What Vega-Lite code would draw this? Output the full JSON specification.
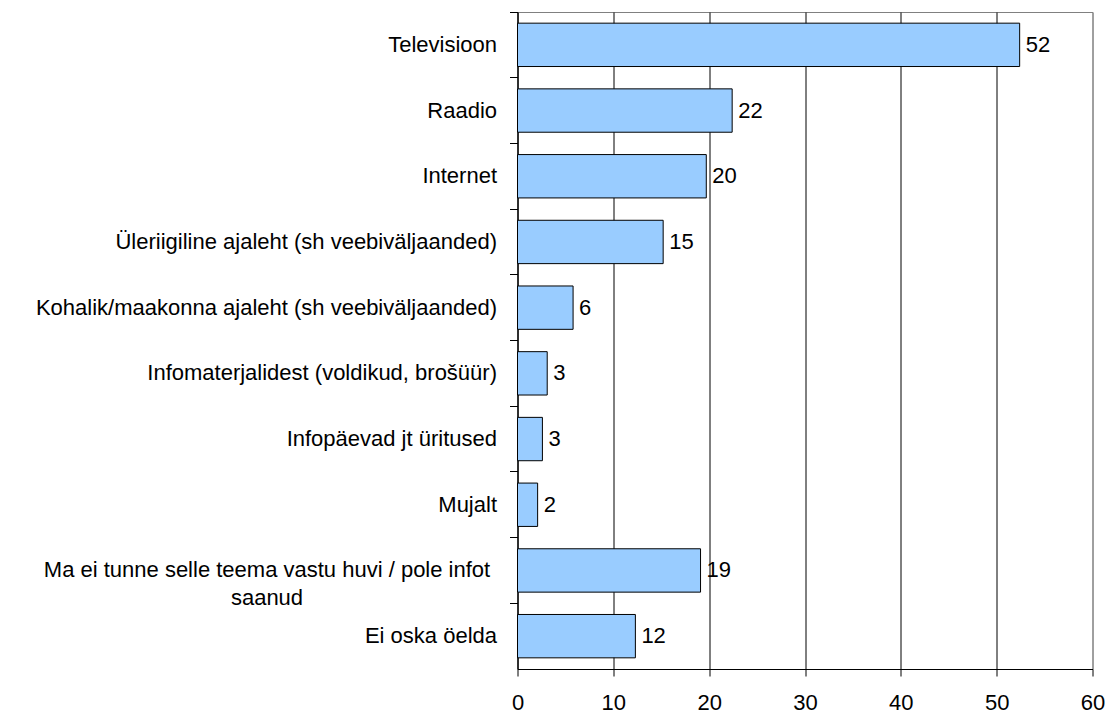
{
  "$schema": "https://vega.github.io/schema/vega-lite/v6.json",
  "width": 575,
  "height": 657,
  "autosize": {"type": "none"},
  "padding": {"left": 517.5, "top": 12, "right": 12.5, "bottom": 45},
  "background": "white",
  "config": {
    "view": {"stroke": "#808080", "strokeWidth": 1},
    "font": "Liberation Sans"
  },
  "data": {
    "values": [
      {"cat": "Televisioon", "value": 52.4},
      {"cat": "Raadio", "value": 22.4},
      {"cat": "Internet", "value": 19.7},
      {"cat": "Üleriigiline ajaleht (sh veebiväljaanded)", "value": 15.2},
      {"cat": "Kohalik/maakonna ajaleht (sh veebiväljaanded)", "value": 5.8},
      {"cat": "Infomaterjalidest (voldikud, brošüür)", "value": 3.1},
      {"cat": "Infopäevad jt üritused", "value": 2.6},
      {"cat": "Mujalt", "value": 2.1},
      {"cat": "Ma ei tunne selle teema vastu huvi / pole infot saanud", "value": 19.1},
      {"cat": "Ei oska öelda", "value": 12.3}
    ]
  },
  "encoding": {
    "y": {
      "field": "cat",
      "type": "nominal",
      "sort": null,
      "scale": {"paddingInner": 0, "paddingOuter": 0},
      "axis": {
        "title": null,
        "domainColor": "black",
        "domainWidth": 1,
        "tickColor": "black",
        "tickSize": 8,
        "tickWidth": 1,
        "bandPosition": 0,
        "grid": false,
        "labelFont": "Liberation Sans",
        "labelFontSize": 22,
        "labelColor": "black",
        "labelLimit": 0,
        "labelLineHeight": 28,
        "labelExpr": "datum.value == 'Ma ei tunne selle teema vastu huvi / pole infot saanud' ? ['Ma ei tunne selle teema vastu huvi / pole infot', 'saanud'] : datum.value",
        "labelAlign": {"condition": {"test": "datum.value == 'Ma ei tunne selle teema vastu huvi / pole infot saanud'", "value": "center"}, "value": "right"},
        "labelPadding": {"condition": {"test": "datum.value == 'Ma ei tunne selle teema vastu huvi / pole infot saanud'", "value": 243}, "value": 13}
      }
    }
  },
  "layer": [
    {
      "mark": {"type": "bar", "fill": "#99CCFF", "stroke": "black", "strokeWidth": 1, "height": {"band": 0.66}},
      "encoding": {
        "x": {
          "field": "value",
          "type": "quantitative",
          "scale": {"domain": [0, 60], "nice": false},
          "axis": {
            "title": null,
            "values": [0, 10, 20, 30, 40, 50, 60],
            "domainColor": "black",
            "domainWidth": 1,
            "tickColor": "black",
            "tickSize": 7,
            "grid": true,
            "gridColor": {"condition": {"test": "datum.value === 60", "value": "#808080"}, "value": "black"},
            "gridWidth": 1,
            "gridOpacity": 1,
            "labelFont": "Liberation Sans",
            "labelFontSize": 22,
            "labelColor": "black",
            "labelPadding": 16,
            "labelFlush": false
          }
        }
      }
    },
    {
      "mark": {"type": "text", "align": "left", "baseline": "middle", "dx": 6, "font": "Liberation Sans", "fontSize": 22, "color": "black"},
      "encoding": {
        "x": {"field": "value", "type": "quantitative"},
        "text": {"field": "value", "type": "quantitative", "format": ".0f"}
      }
    }
  ]
}
